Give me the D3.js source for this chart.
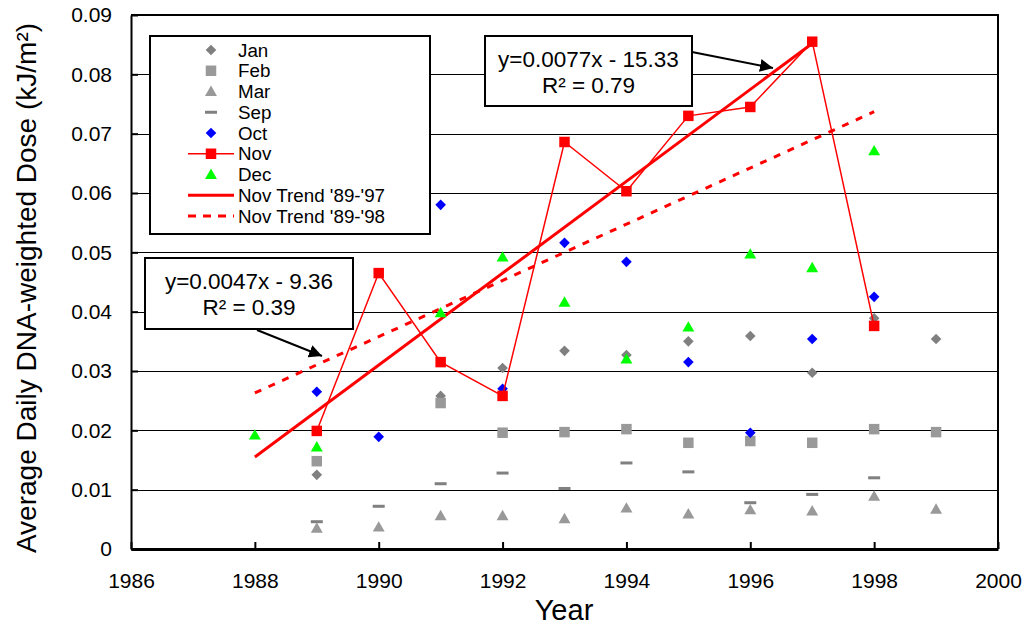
<!DOCTYPE html>
<html>
<head>
<meta charset="utf-8">
<script src="https://cdn.jsdelivr.net/npm/d3@7"></script>
<style>
  body { margin: 0; background: #fff; }
  svg { display: block; font-family: Arial, "Liberation Sans", sans-serif; }
</style>
</head>
<body>
<svg id="chart" width="1029" height="630"></svg>
<script>
// ---------- DATA ----------
const xTicks = [1986, 1988, 1990, 1992, 1994, 1996, 1998, 2000];
const yTicks = [0, 0.01, 0.02, 0.03, 0.04, 0.05, 0.06, 0.07, 0.08, 0.09];

const janYears = [1989, 1991, 1992, 1993, 1994, 1995, 1996, 1997, 1998, 1999];
const janVals  = [0.0125, 0.0258, 0.0305, 0.0334, 0.0327, 0.0350, 0.0359, 0.0297, 0.0389, 0.0354];

const febYears = [1989, 1991, 1992, 1993, 1994, 1995, 1996, 1997, 1998, 1999];
const febVals  = [0.0148, 0.0246, 0.0196, 0.0197, 0.0202, 0.0179, 0.0182, 0.0179, 0.0202, 0.0197];

const marYears = [1989, 1990, 1991, 1992, 1993, 1994, 1995, 1996, 1997, 1998, 1999];
const marVals  = [0.0035, 0.0037, 0.0056, 0.0056, 0.0051, 0.0069, 0.0059, 0.0066, 0.0064, 0.0089, 0.0067];

const sepYears = [1989, 1990, 1991, 1992, 1993, 1994, 1995, 1996, 1997, 1998];
const sepVals  = [0.0046, 0.0072, 0.0110, 0.0128, 0.0102, 0.0145, 0.0130, 0.0078, 0.0092, 0.0120];

const octYears = [1989, 1990, 1991, 1992, 1993, 1994, 1995, 1996, 1997, 1998];
const octVals  = [0.0265, 0.0189, 0.0580, 0.0270, 0.0516, 0.0484, 0.0315, 0.0196, 0.0354, 0.0425];

const novYears = [1989, 1990, 1991, 1992, 1993, 1994, 1995, 1996, 1997, 1998];
const novVals  = [0.0199, 0.0465, 0.0315, 0.0258, 0.0686, 0.0603, 0.0730, 0.0745, 0.0855, 0.0376];

const decYears = [1988, 1989, 1991, 1992, 1993, 1994, 1995, 1996, 1997, 1998];
const decVals  = [0.0192, 0.0172, 0.0398, 0.0492, 0.0416, 0.0320, 0.0374, 0.0497, 0.0474, 0.0671];

// trend line end points
const trend97Years = [1988, 1997];
const trend97Vals  = [0.0155, 0.0852];
const trend98Years = [1988, 1998];
const trend98Vals  = [0.0263, 0.0737];

const legendLabels = ["Jan", "Feb", "Mar", "Sep", "Oct", "Nov", "Dec", "Nov Trend '89-'97", "Nov Trend '89-'98"];
const eq97Text = ["y=0.0077x - 15.33", "R\u00B2 = 0.79"];
const eq98Text = ["y=0.0047x - 9.36", "R\u00B2 = 0.39"];

// ---------- SETUP ----------
const svg = d3.select("#chart");
const L = 131, R = 998, T = 15, B = 549;
const x = d3.scaleLinear().domain([1986, 2000]).range([L, R]);
const y = d3.scaleLinear().domain([0, 0.09]).range([B, T]);

const zip = (xs, vs) => xs.map((d, i) => ({ x: d, y: vs[i] }));

// gridlines
svg.append("g").selectAll("line")
  .data(yTicks.filter(d => d > 0))
  .join("line")
  .attr("x1", L).attr("x2", R)
  .attr("y1", d => Math.round(y(d)) + 0.5).attr("y2", d => Math.round(y(d)) + 0.5)
  .attr("stroke", "#000").attr("stroke-width", 1);

// frame top & right
svg.append("line").attr("x1", L).attr("x2", R + 1).attr("y1", T).attr("y2", T)
  .attr("stroke", "#000").attr("stroke-width", 2);
svg.append("line").attr("x1", R).attr("x2", R).attr("y1", T).attr("y2", B)
  .attr("stroke", "#000").attr("stroke-width", 2);

// axes
const xAxis = d3.axisBottom(x).tickValues(xTicks).tickFormat(d3.format("d")).tickSizeInner(-7).tickSizeOuter(0);
const gx = svg.append("g").attr("transform", `translate(0,${B})`).call(xAxis);
gx.select(".domain").attr("stroke-width", 3);
gx.selectAll(".tick line").attr("stroke-width", 2);
gx.selectAll("text").attr("font-size", 21).attr("dy", 0).attr("y", 39).attr("fill", "#000")
  .attr("font-family", "Arial, 'Liberation Sans', sans-serif");

const yAxis = d3.axisLeft(y).tickValues(yTicks).tickFormat(d => d === 0 ? "0" : d3.format(".2f")(d)).tickSizeInner(-7).tickSizeOuter(0);
const gy = svg.append("g").attr("transform", `translate(${L},0)`).call(yAxis);
gy.select(".domain").attr("stroke-width", 2);
gy.selectAll(".tick line").attr("stroke-width", 2);
gy.selectAll("text").attr("font-size", 21).attr("x", -19).attr("fill", "#000")
  .attr("font-family", "Arial, 'Liberation Sans', sans-serif");

// axis titles
svg.append("text").attr("x", 564).attr("y", 620).attr("text-anchor", "middle")
  .attr("font-size", 29).text("Year");
svg.append("text").attr("transform", "translate(36,288) rotate(-90)").attr("text-anchor", "middle")
  .attr("font-size", 28).text("Average Daily DNA-weighted Dose (kJ/m\u00B2)");

// ---------- MARKS ----------
const symDiamond = d3.symbol().type(d3.symbolDiamond2).size(72);
const symSquare = d3.symbol().type(d3.symbolSquare).size(110);
const symTri = d3.symbol().type(d3.symbolTriangle).size(62);

function drawSymbols(data, sym, color, dy = 0) {
  svg.append("g").selectAll("path").data(data).join("path")
    .attr("transform", d => `translate(${x(d.x)},${y(d.y) + dy})`)
    .attr("d", sym).attr("fill", color);
}

drawSymbols(zip(janYears, janVals), symDiamond, "#808080");
drawSymbols(zip(febYears, febVals), symSquare, "#999999");
drawSymbols(zip(marYears, marVals), symTri, "#999999", 1);
// Sep dashes
svg.append("g").selectAll("rect").data(zip(sepYears, sepVals)).join("rect")
  .attr("x", d => x(d.x) - 6).attr("y", d => y(d.y) - 1.5)
  .attr("width", 12).attr("height", 3).attr("fill", "#808080");
drawSymbols(zip(octYears, octVals), symDiamond, "#0000FF");

// trend lines
const line = d3.line().x(d => x(d.x)).y(d => y(d.y));
svg.append("path").datum(zip(trend98Years, trend98Vals)).attr("d", line)
  .attr("fill", "none").attr("stroke", "#FF0000").attr("stroke-width", 3).attr("stroke-dasharray", "7,8");
svg.append("path").datum(zip(trend97Years, trend97Vals)).attr("d", line)
  .attr("fill", "none").attr("stroke", "#FF0000").attr("stroke-width", 3);

// Nov line + squares
svg.append("path").datum(zip(novYears, novVals)).attr("d", line)
  .attr("fill", "none").attr("stroke", "#FF0000").attr("stroke-width", 1.5);
drawSymbols(zip(novYears, novVals), symSquare, "#FF0000");
drawSymbols(zip(decYears, decVals), symTri, "#00FF00", 1);

// ---------- LEGEND ----------
const lg = svg.append("g");
lg.append("rect").attr("x", 150).attr("y", 36).attr("width", 280).attr("height", 198)
  .attr("fill", "#fff").attr("stroke", "#000").attr("stroke-width", 2);
const legY0 = 50, legDy = 20.75, symX = 211, txtX = 238;
const legendDraw = [
  g => g.append("path").attr("d", symDiamond).attr("fill", "#808080"),
  g => g.append("path").attr("d", symSquare).attr("fill", "#999999"),
  g => g.append("path").attr("d", symTri).attr("fill", "#999999").attr("transform", "translate(0,1)"),
  g => g.append("rect").attr("x", -6).attr("y", -1.5).attr("width", 12).attr("height", 3).attr("fill", "#808080"),
  g => g.append("path").attr("d", symDiamond).attr("fill", "#0000FF"),
  g => { g.append("line").attr("x1", -23).attr("x2", 23).attr("stroke", "#FF0000").attr("stroke-width", 1.5);
         g.append("path").attr("d", symSquare).attr("fill", "#FF0000"); },
  g => g.append("path").attr("d", symTri).attr("fill", "#00FF00").attr("transform", "translate(0,1)"),
  g => g.append("line").attr("x1", -23).attr("x2", 23).attr("stroke", "#FF0000").attr("stroke-width", 3),
  g => g.append("line").attr("x1", -23).attr("x2", 23).attr("stroke", "#FF0000").attr("stroke-width", 3).attr("stroke-dasharray", "8,7")
];
legendLabels.forEach((lab, i) => {
  const gy = legY0 + i * legDy;
  const g = lg.append("g").attr("transform", `translate(${symX},${gy})`);
  legendDraw[i](g);
  lg.append("text").attr("x", txtX).attr("y", gy).attr("dy", "0.35em")
    .attr("font-size", 18.8).text(lab);
});

// ---------- ANNOTATIONS ----------
svg.append("defs").append("marker").attr("id", "arr").attr("viewBox", "0 0 10 10")
  .attr("refX", 10).attr("refY", 5).attr("markerWidth", 6.5).attr("markerHeight", 6.5)
  .attr("markerUnits", "strokeWidth").attr("orient", "auto")
  .append("path").attr("d", "M0,0 L10,5 L0,10 Z").attr("fill", "#000");

function annotation(bx, by, bw, bh, lines, ax1, ay1, ax2, ay2) {
  svg.append("line").attr("x1", ax1).attr("y1", ay1).attr("x2", ax2).attr("y2", ay2)
    .attr("stroke", "#000").attr("stroke-width", 2).attr("marker-end", "url(#arr)");
  svg.append("rect").attr("x", bx).attr("y", by).attr("width", bw).attr("height", bh)
    .attr("fill", "#fff").attr("stroke", "#000").attr("stroke-width", 2);
  lines.forEach((t, i) => {
    svg.append("text").attr("x", bx + bw / 2).attr("y", by + 23 + i * 26).attr("dy", "0.35em")
      .attr("text-anchor", "middle").attr("font-size", 22.5).text(t);
  });
}
annotation(485, 36, 207, 70, eq97Text, 692, 52, 773, 68);
annotation(145, 258, 208, 71, eq98Text, 257, 330, 322, 356);
</script>
</body>
</html>
